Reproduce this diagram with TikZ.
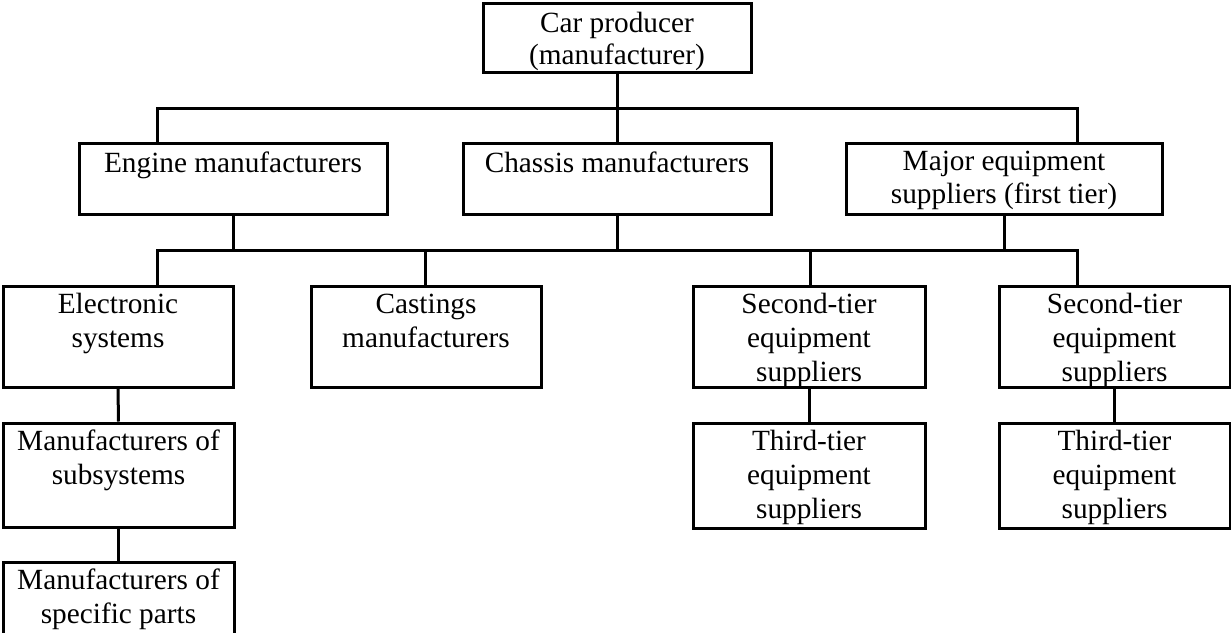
\documentclass[tikz,border=0pt]{standalone}
\usepackage{fontspec}
\setmainfont{Liberation Serif}
\newcommand\firstline{\rule{0pt}{14.5pt}}
\begin{document}
\begin{tikzpicture}[x=0.5pt,y=-0.5pt,
  box/.style={draw=black,line width=1.5pt,rectangle,inner sep=0pt},
  txt/.style={anchor=north,inner sep=0pt,align=center,
    font=\fontsize{14.65}{17}\selectfont},
  link/.style={draw=black,line width=1.5pt}]
\clip (0,0) rectangle (1231,632);
% boxes
\node[box,minimum width=134pt,minimum height=34.5pt] (car) at (617,37.5) {};
\node[box,minimum width=154pt,minimum height=35.5pt] (eng) at (233,178.5) {};
\node[box,minimum width=154pt,minimum height=35.5pt] (cha) at (617,178.5) {};
\node[box,minimum width=158pt,minimum height=35.5pt] (maj) at (1004,178.5) {};
\node[box,minimum width=115pt,minimum height=50.5pt] (ele) at (118,336.5) {};
\node[box,minimum width=115pt,minimum height=50.5pt] (cas) at (426,336.5) {};
\node[box,minimum width=116pt,minimum height=50.5pt] (st1) at (809,336.5) {};
\node[box,minimum width=115.5pt,minimum height=50.5pt] (st2) at (1114.5,336.5) {};
\node[box,minimum width=115.5pt,minimum height=52pt] (sub) at (118.5,475) {};
\node[box,minimum width=115.5pt,minimum height=54pt] (spe) at (118.5,616) {};
\node[box,minimum width=116pt,minimum height=52.5pt] (tt1) at (809,475.5) {};
\node[box,minimum width=115.5pt,minimum height=52.5pt] (tt2) at (1114.5,475.5) {};
% texts
\node[txt,font=\fontsize{14.65}{16}\selectfont] (cart) at (car.north) {\rule{0pt}{15.5pt}Car producer\\(manufacturer)};
\node[txt,yshift=-1pt] (engt) at (eng.north) {\firstline Engine manufacturers};
\node[txt,yshift=-1pt] (chat) at (cha.north) {\firstline Chassis manufacturers};
\node[txt,font=\fontsize{14.65}{16.5}\selectfont] (majt) at (maj.north) {\firstline Major equipment\\suppliers (first tier)};
\node[txt] (elet) at (ele.north) {\firstline Electronic\\systems};
\node[txt] (cast) at (cas.north) {\firstline Castings\\manufacturers};
\node[txt] (st1t) at (st1.north) {\firstline Second-tier\\equipment\\suppliers};
\node[txt] (st2t) at (st2.north) {\firstline Second-tier\\equipment\\suppliers};
\node[txt] (subt) at (sub.north) {\firstline Manufacturers of\\subsystems};
\node[txt] (spet) at (spe.north) {\firstline Manufacturers of\\specific parts};
\node[txt] (tt1t) at (tt1.north) {\firstline Third-tier\\equipment\\suppliers};
\node[txt] (tt2t) at (tt2.north) {\firstline Third-tier\\equipment\\suppliers};
% bus coordinates
\coordinate (b1l) at (157,108);
\coordinate (b1r) at (1077,108);
\coordinate (b2l) at (157,250);
\coordinate (b2r) at (1077,250);
\coordinate (b2c) at (425,250);
\coordinate (b2s) at (810,250);
% first level
\draw[link] (car.south) -- (car.south |- b1l);
\draw[link,line cap=rect] (b1l) -- (b1r);
\draw[link] (b1l) -- (b1l |- eng.north);
\draw[link] (cha.north) -- (cha.north |- b1l);
\draw[link] (b1r) -- (b1r |- maj.north);
% second level
\draw[link] (eng.south) -- (eng.south |- b2l);
\draw[link] (cha.south) -- (cha.south |- b2l);
\draw[link] (maj.south) -- (maj.south |- b2l);
\draw[link,line cap=rect] (b2l) -- (b2r);
\draw[link] (b2l) -- (b2l |- ele.north);
\draw[link] (b2c) -- (b2c |- cas.north);
\draw[link] (b2s) -- (b2s |- st1.north);
\draw[link] (b2r) -- (b2r |- st2.north);
% chains
\draw[link] (ele.south) -- (sub.north);
\draw[link] (sub.south) -- (spe.north);
\draw[link] (st1.south) -- (tt1.north);
\draw[link] (st2.south) -- (tt2.north);
\end{tikzpicture}
\end{document}
